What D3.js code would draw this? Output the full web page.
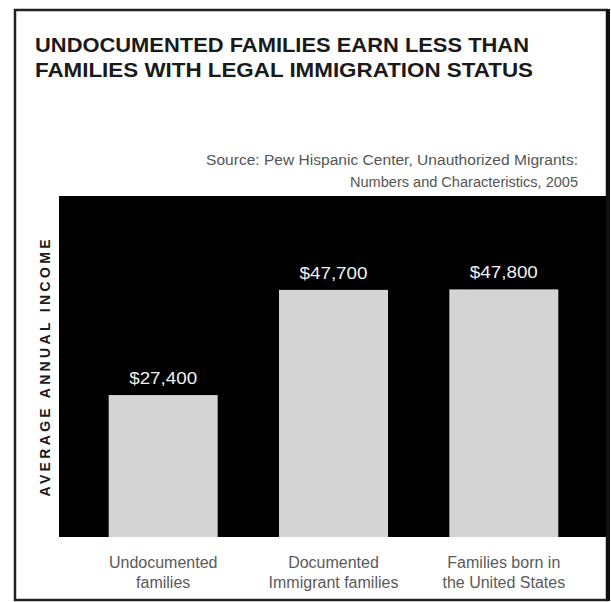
<!DOCTYPE html>
<html>
<head>
<meta charset="utf-8">
<script src="https://cdn.jsdelivr.net/npm/d3@7"></script>
<style>
  html, body { margin: 0; padding: 0; background: #fff; }
  svg { display: block; }
</style>
</head>
<body>
<svg id="chart" width="611" height="602"></svg>
<script>
// ---- data ----
const categories = [
  ["Undocumented", "families"],
  ["Documented", "Immigrant families"],
  ["Families born in", "the United States"]
];
const incomes = [27400, 47700, 47800];
const valueLabels = ["$27,400", "$47,700", "$47,800"];
const titleLines = [
  "UNDOCUMENTED FAMILIES EARN LESS THAN",
  "FAMILIES WITH LEGAL IMMIGRATION STATUS"
];
const sourceLines = [
  "Source: Pew Hispanic Center, Unauthorized Migrants:",
  "Numbers and Characteristics, 2005"
];
const yAxisLabel = "AVERAGE ANNUAL INCOME";

// ---- drawing ----
const svg = d3.select("#chart");

// outer frame
svg.append("rect")
  .attr("x", 15).attr("y", 10)
  .attr("width", 592).attr("height", 590)
  .attr("fill", "#fff")
  .attr("stroke", "#222").attr("stroke-width", 2.5);
// heavier right edge
svg.append("line")
  .attr("x1", 608).attr("x2", 608).attr("y1", 9).attr("y2", 601)
  .attr("stroke", "#111").attr("stroke-width", 4);

// title
const title = svg.append("g");
titleLines.forEach((t, i) => {
  title.append("text")
    .attr("x", 35).attr("y", 52 + i * 25)
    .attr("font-family", "Liberation Sans, Arial, sans-serif")
    .attr("font-weight", "bold")
    .attr("font-size", 20)
    .attr("fill", "#1a1a1a")
    .attr("textLength", i === 0 ? 494 : 498)
    .attr("lengthAdjust", "spacingAndGlyphs")
    .text(t);
});

// source
sourceLines.forEach((t, i) => {
  svg.append("text")
    .attr("x", 578).attr("y", 165 + i * 22)
    .attr("text-anchor", "end")
    .attr("font-family", "Liberation Sans, Arial, sans-serif")
    .attr("font-size", 14)
    .attr("fill", "#555")
    .attr("textLength", i === 0 ? 372 : 228)
    .attr("lengthAdjust", "spacingAndGlyphs")
    .text(t);
});

// plot panel
const panel = { x0: 59, x1: 606, y0: 196, y1: 537 };
svg.append("rect")
  .attr("x", panel.x0).attr("y", panel.y0)
  .attr("width", panel.x1 - panel.x0).attr("height", panel.y1 - panel.y0)
  .attr("fill", "#000");

const x = d3.scaleBand()
  .domain(d3.range(categories.length))
  .range([61, 606])
  .paddingInner(0.36)
  .paddingOuter(0.28);

const y = d3.scaleLinear()
  .domain([0, 50000])
  .range([panel.y1, panel.y1 - 259]);

svg.append("g").selectAll("rect")
  .data(incomes)
  .join("rect")
  .attr("x", (d, i) => x(i))
  .attr("y", d => y(d))
  .attr("width", x.bandwidth())
  .attr("height", d => y(0) - y(d))
  .attr("fill", "#d4d4d4");

svg.append("g").selectAll("text")
  .data(incomes)
  .join("text")
  .attr("x", (d, i) => x(i) + x.bandwidth() / 2)
  .attr("y", d => y(d) - 11)
  .attr("text-anchor", "middle")
  .attr("font-family", "Liberation Sans, Arial, sans-serif")
  .attr("font-size", 17)
  .attr("fill", "#f0f0f0")
  .attr("textLength", 68)
  .attr("lengthAdjust", "spacingAndGlyphs")
  .text((d, i) => valueLabels[i]);

// category labels
const catG = svg.append("g");
categories.forEach((lines, i) => {
  lines.forEach((t, j) => {
    catG.append("text")
      .attr("x", x(i) + x.bandwidth() / 2)
      .attr("y", 568 + j * 20)
      .attr("text-anchor", "middle")
      .attr("font-family", "Liberation Sans, Arial, sans-serif")
      .attr("font-size", 16)
      .attr("fill", "#5a5a5a")
      .text(t);
  });
});

// y axis label
svg.append("text")
  .attr("transform", "translate(50,368) rotate(-90)")
  .attr("text-anchor", "middle")
  .attr("font-family", "Liberation Sans, Arial, sans-serif")
  .attr("font-weight", "bold")
  .attr("font-size", 14)
  .attr("fill", "#1a1a1a")
  .attr("textLength", 257)
  .attr("lengthAdjust", "spacing")
  .text(yAxisLabel);
</script>
</body>
</html>
